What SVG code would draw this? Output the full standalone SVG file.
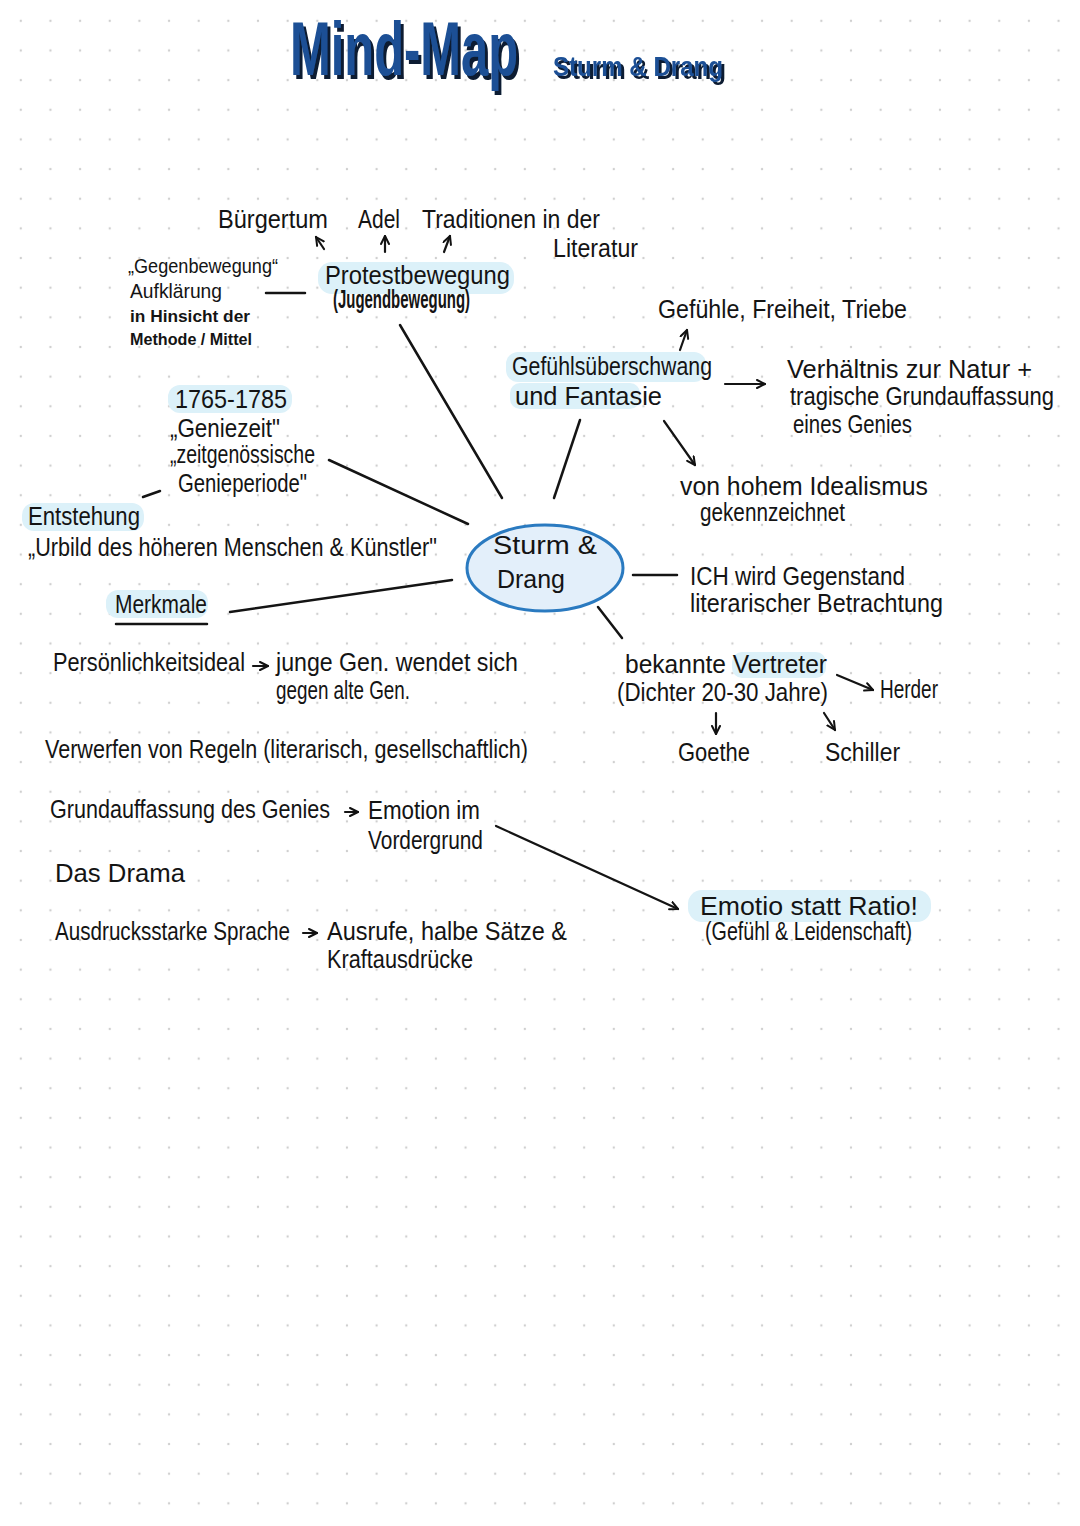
<svg xmlns="http://www.w3.org/2000/svg" width="1080" height="1526" viewBox="0 0 1080 1526">
<defs>
<pattern id="dots" patternUnits="userSpaceOnUse" x="6" y="6" width="29.65" height="29.65">
<circle cx="14.8" cy="14.8" r="1.2" fill="#cfcfcf"/>
</pattern>
<marker id="ah" markerUnits="userSpaceOnUse" markerWidth="14" markerHeight="14" refX="9" refY="5" orient="auto">
<path d="M1,1 L9,5 L1,9" fill="none" stroke="#111" stroke-width="2" stroke-linecap="round" stroke-linejoin="round"/>
</marker>
<filter id="shadow" x="-5%" y="-10%" width="115%" height="130%">
<feOffset in="SourceAlpha" dx="3" dy="3" result="off"/>
<feFlood flood-color="#0a1a30"/>
<feComposite in2="off" operator="in" result="sh"/>
<feMerge><feMergeNode in="sh"/><feMergeNode in="SourceGraphic"/></feMerge>
</filter>
</defs>
<style>
.t{font-family:"Liberation Sans Narrow","Liberation Sans",Arial,sans-serif;fill:#141414;font-size:26px}
.s{font-size:21px}
.xs{font-size:16px;font-weight:bold}
.c{stroke:#141414;stroke-width:2.5;fill:none;stroke-linecap:round}
.a{stroke:#141414;stroke-width:2.2;fill:none;stroke-linecap:round;marker-end:url(#ah)}
.hl{fill:#dcf1f9}
.title{font-family:"Liberation Sans Narrow","Liberation Sans",Arial,sans-serif;font-weight:bold;fill:#1b4f95;filter:url(#shadow)}
</style>
<rect width="1080" height="1526" fill="#ffffff"/>
<rect width="1080" height="1526" fill="url(#dots)"/>

<g id="title">
<text class="title" transform="translate(290,75) scale(1,1.3)" x="0" y="0" font-size="58" textLength="228" lengthAdjust="spacingAndGlyphs">Mind-Map</text>
<text class="title" x="553" y="76" font-size="28" textLength="170" lengthAdjust="spacingAndGlyphs">Sturm &amp; Drang</text>
</g>

<g id="highlights">
<rect class="hl" x="318" y="262" width="196" height="32" rx="14"/>
<rect class="hl" x="506" y="352" width="200" height="30" rx="12"/>
<rect class="hl" x="510" y="383" width="130" height="26" rx="10"/>
<rect class="hl" x="168" y="385" width="124" height="28" rx="12"/>
<rect class="hl" x="22" y="503" width="122" height="28" rx="12"/>
<rect class="hl" x="106" y="590" width="102" height="28" rx="12"/>
<rect class="hl" x="732" y="652" width="94" height="26" rx="10"/>
<rect class="hl" x="688" y="890" width="243" height="32" rx="14"/>
</g>

<g id="connectors">
<line class="a" x1="324" y1="249" x2="316" y2="237"/>
<line class="a" x1="385" y1="252" x2="385" y2="236"/>
<line class="a" x1="444" y1="252" x2="450" y2="236"/>
<line class="c" x1="266" y1="293" x2="305" y2="293"/>
<line class="c" x1="400" y1="325" x2="502" y2="498"/>
<line class="a" x1="680" y1="350" x2="687" y2="330"/>
<line class="a" x1="725" y1="384" x2="765" y2="384"/>
<line class="c" x1="580" y1="420" x2="554" y2="498"/>
<line class="a" x1="664" y1="421" x2="695" y2="465"/>
<line class="c" x1="143" y1="497" x2="160" y2="491"/>
<line class="c" x1="329" y1="460" x2="468" y2="524"/>
<line class="c" x1="230" y1="612" x2="452" y2="580"/>
<line class="c" x1="116" y1="624" x2="207" y2="624"/>
<line class="c" x1="633" y1="575" x2="677" y2="575"/>
<line class="c" x1="598" y1="607" x2="622" y2="638"/>
<line class="a" x1="837" y1="675" x2="873" y2="690"/>
<line class="a" x1="716" y1="713" x2="716" y2="734"/>
<line class="a" x1="824" y1="713" x2="835" y2="730"/>
<line class="a" x1="253" y1="666" x2="268" y2="666"/>
<line class="a" x1="345" y1="812" x2="358" y2="812"/>
<line class="a" x1="303" y1="933" x2="317" y2="933"/>
<line class="a" x1="496" y1="826" x2="678" y2="909"/>
</g>

<g id="center">
<ellipse cx="545" cy="568" rx="78" ry="43" fill="#e3effa" stroke="#2a7ac0" stroke-width="3"/>
<text class="t" x="493" y="554" font-size="27" textLength="104" lengthAdjust="spacingAndGlyphs">Sturm &amp;</text>
<text class="t" x="497" y="588" font-size="27" textLength="68" lengthAdjust="spacingAndGlyphs">Drang</text>
</g>

<g id="protest">
<text class="t" x="218" y="228" textLength="110" lengthAdjust="spacingAndGlyphs">Bürgertum</text>
<text class="t" x="358" y="228" textLength="42" lengthAdjust="spacingAndGlyphs">Adel</text>
<text class="t" x="422" y="228" textLength="178" lengthAdjust="spacingAndGlyphs">Traditionen in der</text>
<text class="t" x="553" y="257" textLength="85" lengthAdjust="spacingAndGlyphs">Literatur</text>
<text class="t" x="325" y="284" font-size="28" textLength="185" lengthAdjust="spacingAndGlyphs">Protestbewegung</text>
<text class="t" x="333" y="308" font-size="13" font-weight="bold" textLength="137" lengthAdjust="spacingAndGlyphs">(Jugendbewegung)</text>
</g>

<g id="gegenbewegung">
<text class="t s" x="128" y="273" textLength="150" lengthAdjust="spacingAndGlyphs">„Gegenbewegung“</text>
<text class="t s" x="130" y="298" textLength="92" lengthAdjust="spacingAndGlyphs">Aufklärung</text>
<text class="t xs" x="130" y="322" textLength="120" lengthAdjust="spacingAndGlyphs">in Hinsicht der</text>
<text class="t xs" x="130" y="345" textLength="122" lengthAdjust="spacingAndGlyphs">Methode / Mittel</text>
</g>

<g id="gefuehl">
<text class="t" x="658" y="318" textLength="249" lengthAdjust="spacingAndGlyphs">Gefühle, Freiheit, Triebe</text>
<text class="t" x="512" y="375" textLength="200" lengthAdjust="spacingAndGlyphs">Gefühlsüberschwang</text>
<text class="t" x="515" y="405" textLength="147" lengthAdjust="spacingAndGlyphs">und Fantasie</text>
<text class="t" x="787" y="378" textLength="245" lengthAdjust="spacingAndGlyphs">Verhältnis zur Natur +</text>
<text class="t" x="790" y="405" font-size="24" textLength="264" lengthAdjust="spacingAndGlyphs">tragische Grundauffassung</text>
<text class="t" x="793" y="433" textLength="119" lengthAdjust="spacingAndGlyphs">eines Genies</text>
<text class="t" x="680" y="495" textLength="248" lengthAdjust="spacingAndGlyphs">von hohem Idealismus</text>
<text class="t" x="700" y="521" textLength="145" lengthAdjust="spacingAndGlyphs">gekennzeichnet</text>
</g>

<g id="entstehung">
<text class="t" x="175" y="408" textLength="112" lengthAdjust="spacingAndGlyphs">1765-1785</text>
<text class="t" x="170" y="437" textLength="110" lengthAdjust="spacingAndGlyphs">„Geniezeit"</text>
<text class="t" x="170" y="463" textLength="145" lengthAdjust="spacingAndGlyphs">„zeitgenössische</text>
<text class="t" x="178" y="492" textLength="129" lengthAdjust="spacingAndGlyphs">Genieperiode"</text>
<text class="t" x="28" y="525" textLength="112" lengthAdjust="spacingAndGlyphs">Entstehung</text>
<text class="t" x="28" y="556" textLength="409" lengthAdjust="spacingAndGlyphs">„Urbild des höheren Menschen &amp; Künstler"</text>
</g>

<g id="ich">
<text class="t" x="690" y="585" textLength="215" lengthAdjust="spacingAndGlyphs">ICH wird Gegenstand</text>
<text class="t" x="690" y="612" textLength="253" lengthAdjust="spacingAndGlyphs">literarischer Betrachtung</text>
</g>

<g id="vertreter">
<text class="t" x="625" y="673" textLength="202" lengthAdjust="spacingAndGlyphs">bekannte Vertreter</text>
<text class="t" x="617" y="701" textLength="211" lengthAdjust="spacingAndGlyphs">(Dichter 20-30 Jahre)</text>
<text class="t" x="880" y="698" textLength="58" lengthAdjust="spacingAndGlyphs">Herder</text>
<text class="t" x="678" y="761" textLength="72" lengthAdjust="spacingAndGlyphs">Goethe</text>
<text class="t" x="825" y="761" textLength="75" lengthAdjust="spacingAndGlyphs">Schiller</text>
</g>

<g id="merkmale">
<text class="t" x="115" y="613" textLength="92" lengthAdjust="spacingAndGlyphs">Merkmale</text>
<text class="t" x="53" y="671" textLength="192" lengthAdjust="spacingAndGlyphs">Persönlichkeitsideal</text>
<text class="t" x="276" y="671" textLength="242" lengthAdjust="spacingAndGlyphs">junge Gen. wendet sich</text>
<text class="t" x="276" y="699" textLength="134" lengthAdjust="spacingAndGlyphs">gegen alte Gen.</text>
<text class="t" x="45" y="758" textLength="483" lengthAdjust="spacingAndGlyphs">Verwerfen von Regeln (literarisch, gesellschaftlich)</text>
<text class="t" x="50" y="818" textLength="280" lengthAdjust="spacingAndGlyphs">Grundauffassung des Genies</text>
<text class="t" x="368" y="819" textLength="112" lengthAdjust="spacingAndGlyphs">Emotion im</text>
<text class="t" x="368" y="849" textLength="115" lengthAdjust="spacingAndGlyphs">Vordergrund</text>
<text class="t" x="55" y="882" textLength="130" lengthAdjust="spacingAndGlyphs">Das Drama</text>
<text class="t" x="55" y="940" textLength="235" lengthAdjust="spacingAndGlyphs">Ausdrucksstarke Sprache</text>
<text class="t" x="327" y="940" textLength="240" lengthAdjust="spacingAndGlyphs">Ausrufe, halbe Sätze &amp;</text>
<text class="t" x="327" y="968" textLength="146" lengthAdjust="spacingAndGlyphs">Kraftausdrücke</text>
</g>

<g id="emotio">
<text class="t" x="700" y="915" textLength="218" lengthAdjust="spacingAndGlyphs">Emotio statt Ratio!</text>
<text class="t" x="705" y="940" font-size="18" textLength="207" lengthAdjust="spacingAndGlyphs">(Gefühl &amp; Leidenschaft)</text>
</g>
</svg>
